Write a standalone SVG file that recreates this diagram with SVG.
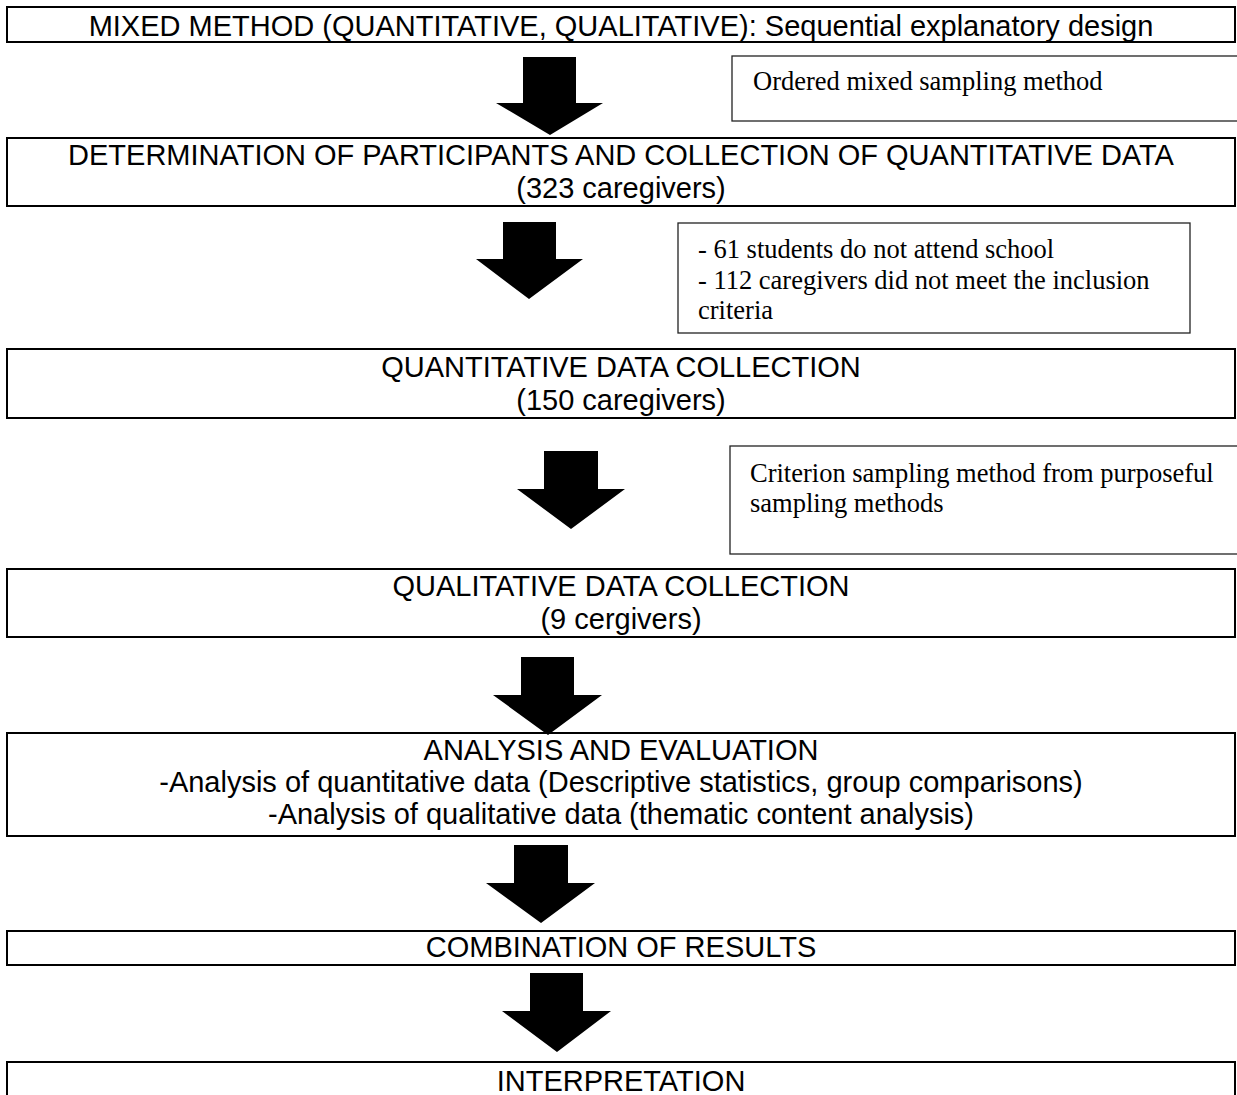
<svg xmlns="http://www.w3.org/2000/svg" width="1237" height="1095" viewBox="0 0 1237 1095">
<style>
.box{fill:#fff;stroke:#000;stroke-width:2}
.side{fill:#fff;stroke:#222;stroke-width:1.3}
.t{font-family:"Liberation Sans",Arial,sans-serif;font-size:29px;fill:#000;text-anchor:middle}
.s{font-family:"Liberation Serif","Times New Roman",serif;font-size:26.5px;fill:#000}
.arr{fill:#000;stroke:none}
</style>
<rect width="1237" height="1095" fill="#fff"/>
<g id="n1">
<rect class="box" x="7" y="7" width="1228" height="35"/>
<text class="t" x="621" y="36">MIXED METHOD (QUANTITATIVE, QUALITATIVE): Sequential explanatory design</text>
</g>
<g id="s1">
<rect class="side" x="732" y="56" width="520" height="65"/>
<text class="s" x="753" y="90">Ordered mixed sampling method</text>
</g>
<g id="n2">
<rect class="box" x="7" y="138" width="1228" height="68"/>
<text class="t" x="621" y="165">DETERMINATION OF PARTICIPANTS AND COLLECTION OF QUANTITATIVE DATA</text>
<text class="t" x="621" y="198">(323 caregivers)</text>
</g>
<g id="s2">
<rect class="side" x="678" y="223" width="512" height="110"/>
<text class="s" x="698" y="258">- 61 students do not attend school</text>
<text class="s" x="698" y="289">- 112 caregivers did not meet the inclusion</text>
<text class="s" x="698" y="319">criteria</text>
</g>
<g id="n3">
<rect class="box" x="7" y="349" width="1228" height="69"/>
<text class="t" x="621" y="377">QUANTITATIVE DATA COLLECTION</text>
<text class="t" x="621" y="410">(150 caregivers)</text>
</g>
<g id="s3">
<rect class="side" x="730" y="446" width="520" height="108"/>
<text class="s" x="750" y="482">Criterion sampling method from purposeful</text>
<text class="s" x="750" y="512">sampling methods</text>
</g>
<g id="n4">
<rect class="box" x="7" y="569" width="1228" height="68"/>
<text class="t" x="621" y="596">QUALITATIVE DATA COLLECTION</text>
<text class="t" x="621" y="629">(9 cergivers)</text>
</g>
<g id="n5">
<rect class="box" x="7" y="733" width="1228" height="103"/>
<text class="t" x="621" y="760">ANALYSIS AND EVALUATION</text>
<text class="t" x="621" y="792">-Analysis of quantitative data (Descriptive statistics, group comparisons)</text>
<text class="t" x="621" y="824">-Analysis of qualitative data (thematic content analysis)</text>
</g>
<g id="n6">
<rect class="box" x="7" y="931" width="1228" height="34"/>
<text class="t" x="621" y="957">COMBINATION OF RESULTS</text>
</g>
<g id="n7">
<rect class="box" x="7" y="1062" width="1228" height="60"/>
<text class="t" x="621" y="1091">INTERPRETATION</text>
</g>
<g id="connectors">
<polygon class="arr" points="523,57 576,57 576,103 603,103 550,135 496,103 523,103"/>
<polygon class="arr" points="503,222 556,222 556,259 583,259 529,299 476,259 503,259"/>
<polygon class="arr" points="544,451 598,451 598,489 625,489 571,529 517,489 544,489"/>
<polygon class="arr" points="521,657 574,657 574,695 602,695 548,735 493,695 521,695"/>
<polygon class="arr" points="514,845 568,845 568,883 595,883 541,923 486,883 514,883"/>
<polygon class="arr" points="530,973 583,973 583,1011 611,1011 557,1052 502,1011 530,1011"/>
</g>
</svg>
